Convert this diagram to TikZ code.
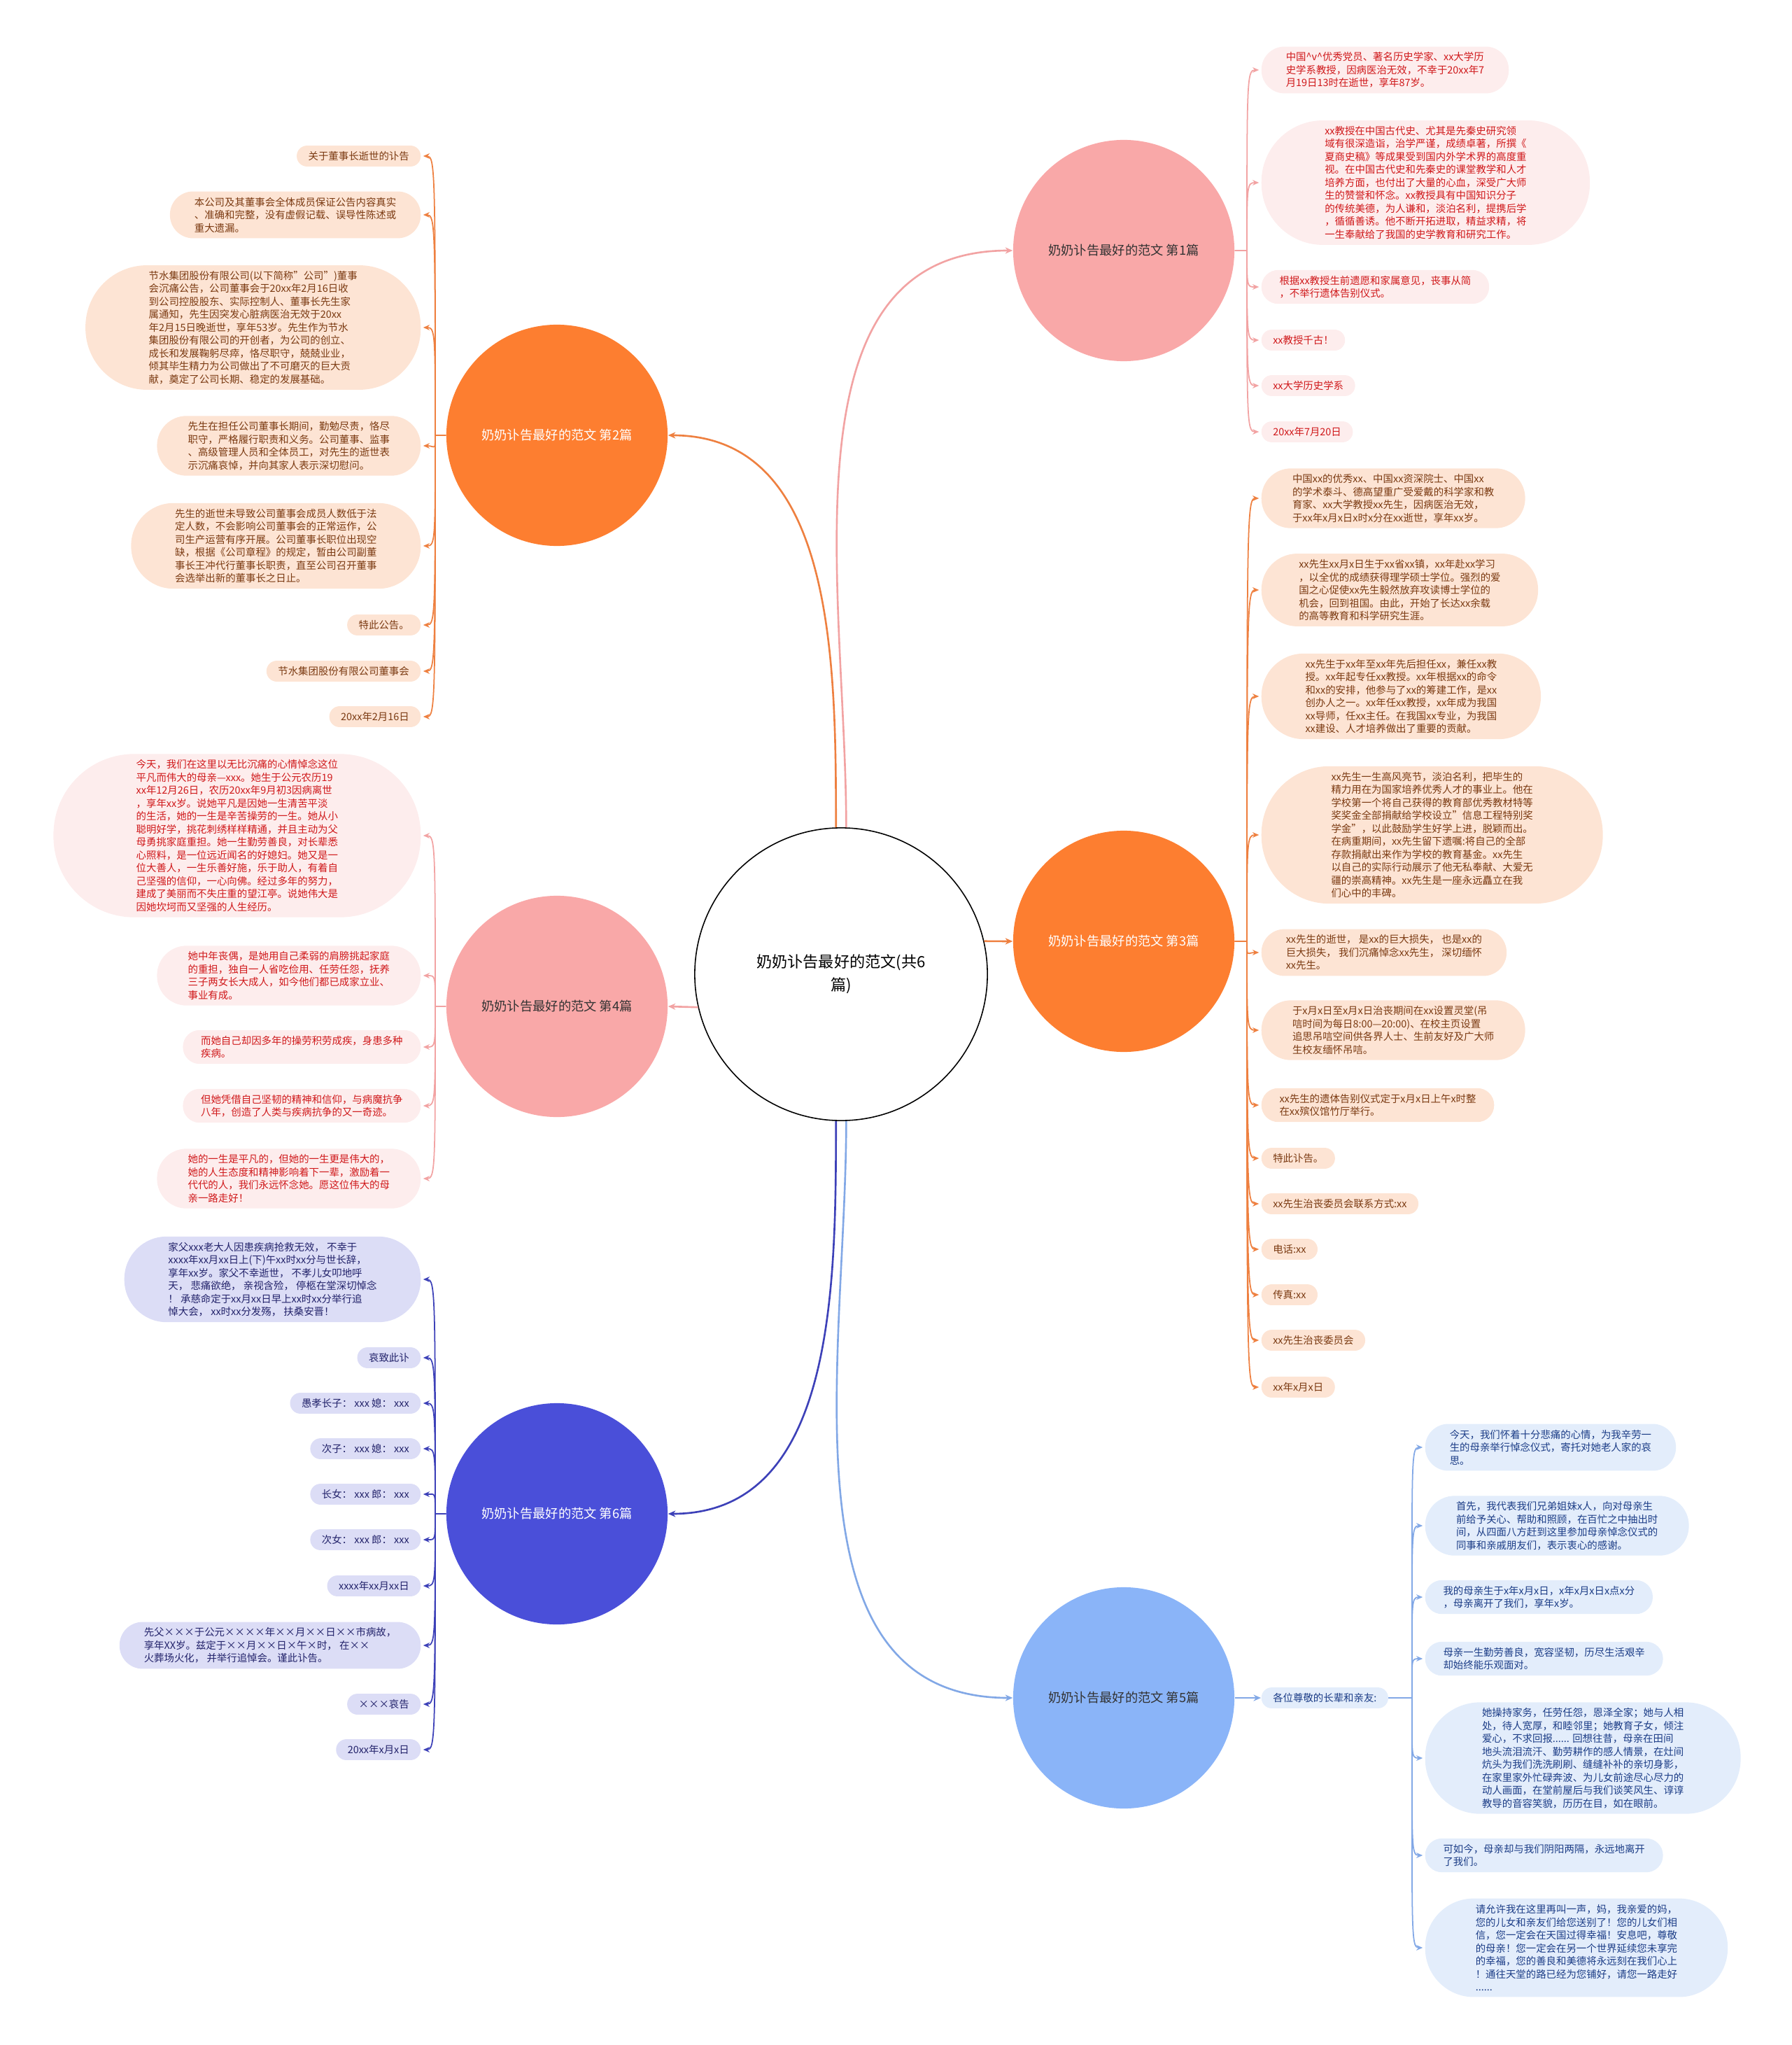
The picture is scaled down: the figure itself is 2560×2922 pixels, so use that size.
\documentclass[tikz,border=0pt]{standalone}
\usepackage{fontspec}
\setmainfont{Noto Sans CJK SC}
\usepackage{xcolor}
\usepackage{tikz}
\usetikzlibrary{arrows.meta}

\definecolor{orgC}{HTML}{FD7E30}
\definecolor{orgL}{HTML}{EE8040}
\definecolor{orgF}{HTML}{FDE4D4}
\definecolor{orgT}{HTML}{7B3A12}
\definecolor{pnkC}{HTML}{F9A8A8}
\definecolor{pnkL}{HTML}{F2A3A3}
\definecolor{pnkF}{HTML}{FDEDED}
\definecolor{pnkT}{HTML}{D0191B}
\definecolor{bluC}{HTML}{8AB4F8}
\definecolor{bluL}{HTML}{82A8E6}
\definecolor{bluF}{HTML}{E3EDFB}
\definecolor{bluT}{HTML}{1C3D87}
\definecolor{indC}{HTML}{4A4FD9}
\definecolor{indL}{HTML}{3D41B8}
\definecolor{indF}{HTML}{DCDDF6}
\definecolor{indT}{HTML}{23236B}

\begin{document}
\begin{tikzpicture}[
    x=0.01cm, y=0.01cm,
    root/.style={circle, draw=black, line width=0.45pt, fill=white, minimum size=4.18cm, inner sep=0pt, align=center, font=\fontsize{6.3}{9.4}\selectfont},
    topic/.style={circle, minimum size=3.16cm, inner sep=0pt, font=\fontsize{5.2}{6.5}\selectfont},
    % #1 = number of text lines, the pill is as round as its height
    leaf/.style={rectangle, minimum height={(#1-1)*5.26pt+8.5pt}, rounded corners={(#1-1)*2.6pt+4.2pt}, inner xsep={(#1-1)*2.63pt+4.7pt}, inner ysep=1pt, align=left, font=\fontsize{4.1}{5.26}\selectfont},
    leaf/.default=1,
    leafo/.style={leaf=#1, fill=orgF, text=orgT}, leafo/.default=1,
    leafp/.style={leaf=#1, fill=pnkF, text=pnkT}, leafp/.default=1,
    leafb/.style={leaf=#1, fill=bluF, text=bluT}, leafb/.default=1,
    leafi/.style={leaf=#1, fill=indF, text=indT}, leafi/.default=1,
    trunk/.style={-{Stealth[length=3pt,width=2.6pt]}, line width=0.75pt},
    link/.style={-{Stealth[length=2.6pt,width=2.2pt]}, line width=0.5pt, shorten >=0.8pt},
    upL/.style={out=90, in=0, out looseness=2.4, in distance=2mm},
    dnL/.style={out=270, in=0, out looseness=2.4, in distance=2mm},
    upR/.style={out=90, in=180, out looseness=2.4, in distance=2mm},
    dnR/.style={out=270, in=180, out looseness=2.4, in distance=2mm}
  ]
    \useasboundingbox (0,0) rectangle (2560,-2922);

    % centre and the six topics
    \node[root] (main) at (1202,-1392) {奶奶讣告最好的范文(共6\\篇)};
    \node[topic, fill=pnkC, text=black!80] (b1) at (1606,-358) {奶奶讣告最好的范文 第1篇};
    \node[topic, fill=orgC, text=white] (b2) at (796,-622) {奶奶讣告最好的范文 第2篇};
    \node[topic, fill=orgC, text=white] (b3) at (1606,-1345) {奶奶讣告最好的范文 第3篇};
    \node[topic, fill=pnkC, text=black!80] (b4) at (796,-1438) {奶奶讣告最好的范文 第4篇};
    \node[topic, fill=bluC, text=black!80] (b5) at (1606,-2426) {奶奶讣告最好的范文 第5篇};
    \node[topic, fill=indC, text=white] (b6) at (796,-2163) {奶奶讣告最好的范文 第6篇};

    \draw[trunk, pnkL] (main.88) to[out=90, in=180] (b1.west);
    \draw[trunk, orgL] (main.92) to[out=90, in=0] (b2.east);
    \draw[trunk, orgL] (main.13) -- (b3.west);
    \draw[trunk, pnkL] (main.193) -- (b4.east);
    \draw[trunk, bluL] (main.272) to[out=270, in=180] (b5.west);
    \draw[trunk, indL] (main.268) to[out=270, in=0] (b6.east);

    \coordinate (t1) at (1782,-358);
    \coordinate (t2) at (622,-622);
    \coordinate (t3) at (1782,-1345);
    \coordinate (t4) at (622,-1438);
    \coordinate (t6) at (622,-2163);

    % 第1篇
    \node[leafp=3, anchor=west] (b1a) at (1802,-100) {中国\textasciicircum v\textasciicircum 优秀党员、著名历史学家、xx大学历\\史学系教授，因病医治无效，不幸于20xx年7\\月19日13时在逝世，享年87岁。};
    \node[leafp=9, anchor=west] (b1b) at (1802,-261) {xx教授在中国古代史、尤其是先秦史研究领\\域有很深造诣，治学严谨，成绩卓著，所撰《\\夏商史稿》等成果受到国内外学术界的高度重\\视。在中国古代史和先秦史的课堂教学和人才\\培养方面，也付出了大量的心血，深受广大师\\生的赞誉和怀念。xx教授具有中国知识分子\\的传统美德，为人谦和，淡泊名利，提携后学\\，循循善诱。他不断开拓进取，精益求精，将\\一生奉献给了我国的史学教育和研究工作。};
    \node[leafp=2, anchor=west] (b1c) at (1802,-410) {根据xx教授生前遗愿和家属意见，丧事从简\\，不举行遗体告别仪式。};
    \node[leafp, anchor=west] (b1d) at (1802,-486) {xx教授千古！};
    \node[leafp, anchor=west] (b1e) at (1802,-551) {xx大学历史学系};
    \node[leafp, anchor=west] (b1f) at (1802,-617) {20xx年7月20日};

    \draw[link, pnkL] (b1.east) -- (t1) to[upR] (b1a.west);
    \draw[link, pnkL] (b1.east) -- (t1) to[upR] (b1b.west);
    \draw[link, pnkL] (b1.east) -- (t1) to[dnR] (b1c.west);
    \draw[link, pnkL] (b1.east) -- (t1) to[dnR] (b1d.west);
    \draw[link, pnkL] (b1.east) -- (t1) to[dnR] (b1e.west);
    \draw[link, pnkL] (b1.east) -- (t1) to[dnR] (b1f.west);

    % 第2篇
    \node[leafo, anchor=east] (b2a) at (602,-223) {关于董事长逝世的讣告};
    \node[leafo=3, anchor=east] (b2b) at (602,-307) {本公司及其董事会全体成员保证公告内容真实\\、准确和完整，没有虚假记载、误导性陈述或\\重大遗漏。};
    \node[leafo=9, anchor=east] (b2c) at (602,-468) {节水集团股份有限公司(以下简称"公司")董事\\会沉痛公告，公司董事会于20xx年2月16日收\\到公司控股股东、实际控制人、董事长先生家\\属通知，先生因突发心脏病医治无效于20xx\\年2月15日晚逝世，享年53岁。先生作为节水\\集团股份有限公司的开创者，为公司的创立、\\成长和发展鞠躬尽瘁，恪尽职守，兢兢业业，\\倾其毕生精力为公司做出了不可磨灭的巨大贡\\献，奠定了公司长期、稳定的发展基础。};
    \node[leafo=4, anchor=east] (b2d) at (602,-637) {先生在担任公司董事长期间，勤勉尽责，恪尽\\职守，严格履行职责和义务。公司董事、监事\\、高级管理人员和全体员工，对先生的逝世表\\示沉痛哀悼，并向其家人表示深切慰问。};
    \node[leafo=6, anchor=east] (b2e) at (602,-780) {先生的逝世未导致公司董事会成员人数低于法\\定人数，不会影响公司董事会的正常运作，公\\司生产运营有序开展。公司董事长职位出现空\\缺，根据《公司章程》的规定，暂由公司副董\\事长王冲代行董事长职责，直至公司召开董事\\会选举出新的董事长之日止。};
    \node[leafo, anchor=east] (b2f) at (602,-893) {特此公告。};
    \node[leafo, anchor=east] (b2g) at (602,-959) {节水集团股份有限公司董事会};
    \node[leafo, anchor=east] (b2h) at (602,-1024) {20xx年2月16日};

    \draw[link, orgL] (b2.west) -- (t2) to[upL] (b2a.east);
    \draw[link, orgL] (b2.west) -- (t2) to[upL] (b2b.east);
    \draw[link, orgL] (b2.west) -- (t2) to[upL] (b2c.east);
    \draw[link, orgL] (b2.west) -- (t2) to[dnL] (b2d.east);
    \draw[link, orgL] (b2.west) -- (t2) to[dnL] (b2e.east);
    \draw[link, orgL] (b2.west) -- (t2) to[dnL] (b2f.east);
    \draw[link, orgL] (b2.west) -- (t2) to[dnL] (b2g.east);
    \draw[link, orgL] (b2.west) -- (t2) to[dnL] (b2h.east);

    % 第3篇
    \node[leafo=4, anchor=west] (b3a) at (1802,-712) {中国xx的优秀xx、中国xx资深院士、中国xx\\的学术泰斗、德高望重广受爱戴的科学家和教\\育家、xx大学教授xx先生，因病医治无效，\\于xx年x月x日x时x分在xx逝世，享年xx岁。};
    \node[leafo=5, anchor=west] (b3b) at (1802,-843) {xx先生xx月x日生于xx省xx镇，xx年赴xx学习\\，以全优的成绩获得理学硕士学位。强烈的爱\\国之心促使xx先生毅然放弃攻读博士学位的\\机会，回到祖国。由此，开始了长达xx余载\\的高等教育和科学研究生涯。};
    \node[leafo=6, anchor=west] (b3c) at (1802,-995) {xx先生于xx年至xx年先后担任xx，兼任xx教\\授。xx年起专任xx教授。xx年根据xx的命令\\和xx的安排，他参与了xx的筹建工作，是xx\\创办人之一。xx年任xx教授，xx年成为我国\\xx导师，任xx主任。在我国xx专业，为我国\\xx建设、人才培养做出了重要的贡献。};
    \node[leafo=10, anchor=west] (b3d) at (1802,-1193) {xx先生一生高风亮节，淡泊名利，把毕生的\\精力用在为国家培养优秀人才的事业上。他在\\学校第一个将自己获得的教育部优秀教材特等\\奖奖金全部捐献给学校设立"信息工程特别奖\\学金"，以此鼓励学生好学上进，脱颖而出。\\在病重期间，xx先生留下遗嘱:将自己的全部\\存款捐献出来作为学校的教育基金。xx先生\\以自己的实际行动展示了他无私奉献、大爱无\\疆的崇高精神。xx先生是一座永远矗立在我\\们心中的丰碑。};
    \node[leafo=3, anchor=west] (b3e) at (1802,-1361) {xx先生的逝世， 是xx的巨大损失， 也是xx的\\巨大损失， 我们沉痛悼念xx先生， 深切缅怀\\xx先生。};
    \node[leafo=4, anchor=west] (b3f) at (1802,-1472) {于x月x日至x月x日治丧期间在xx设置灵堂(吊\\唁时间为每日8:00—20:00)、在校主页设置\\追思吊唁空间供各界人士、生前友好及广大师\\生校友缅怀吊唁。};
    \node[leafo=2, anchor=west] (b3g) at (1802,-1579) {xx先生的遗体告别仪式定于x月x日上午x时整\\在xx殡仪馆竹厅举行。};
    \node[leafo, anchor=west] (b3h) at (1802,-1655) {特此讣告。};
    \node[leafo, anchor=west] (b3i) at (1802,-1720) {xx先生治丧委员会联系方式:xx};
    \node[leafo, anchor=west] (b3j) at (1802,-1785) {电话:xx};
    \node[leafo, anchor=west] (b3k) at (1802,-1850) {传真:xx};
    \node[leafo, anchor=west] (b3l) at (1802,-1915) {xx先生治丧委员会};
    \node[leafo, anchor=west] (b3m) at (1802,-1982) {xx年x月x日};

    \draw[link, orgL] (b3.east) -- (t3) to[upR] (b3a.west);
    \draw[link, orgL] (b3.east) -- (t3) to[upR] (b3b.west);
    \draw[link, orgL] (b3.east) -- (t3) to[upR] (b3c.west);
    \draw[link, orgL] (b3.east) -- (t3) to[upR] (b3d.west);
    \draw[link, orgL] (b3.east) -- (t3) to[dnR] (b3e.west);
    \draw[link, orgL] (b3.east) -- (t3) to[dnR] (b3f.west);
    \draw[link, orgL] (b3.east) -- (t3) to[dnR] (b3g.west);
    \draw[link, orgL] (b3.east) -- (t3) to[dnR] (b3h.west);
    \draw[link, orgL] (b3.east) -- (t3) to[dnR] (b3i.west);
    \draw[link, orgL] (b3.east) -- (t3) to[dnR] (b3j.west);
    \draw[link, orgL] (b3.east) -- (t3) to[dnR] (b3k.west);
    \draw[link, orgL] (b3.east) -- (t3) to[dnR] (b3l.west);
    \draw[link, orgL] (b3.east) -- (t3) to[dnR] (b3m.west);

    % 第4篇
    \node[leafp=12, anchor=east] (b4a) at (602,-1194) {今天，我们在这里以无比沉痛的心情悼念这位\\平凡而伟大的母亲—xxx。她生于公元农历19\\xx年12月26日，农历20xx年9月初3因病离世\\，享年xx岁。说她平凡是因她一生清苦平淡\\的生活，她的一生是辛苦操劳的一生。她从小\\聪明好学，挑花刺绣样样精通，并且主动为父\\母勇挑家庭重担。她一生勤劳善良，对长辈悉\\心照料，是一位远近闻名的好媳妇。她又是一\\位大善人，一生乐善好施，乐于助人，有着自\\己坚强的信仰，一心向佛。经过多年的努力，\\建成了美丽而不失庄重的望江亭。说她伟大是\\因她坎坷而又坚强的人生经历。};
    \node[leafp=4, anchor=east] (b4b) at (602,-1394) {她中年丧偶，是她用自己柔弱的肩膀挑起家庭\\的重担，独自一人省吃俭用、任劳任怨，抚养\\三子两女长大成人，如今他们都已成家立业、\\事业有成。};
    \node[leafp=2, anchor=east] (b4c) at (602,-1496) {而她自己却因多年的操劳积劳成疾，身患多种\\疾病。};
    \node[leafp=2, anchor=east] (b4d) at (602,-1580) {但她凭借自己坚韧的精神和信仰，与病魔抗争\\八年，创造了人类与疾病抗争的又一奇迹。};
    \node[leafp=4, anchor=east] (b4e) at (602,-1684) {她的一生是平凡的，但她的一生更是伟大的，\\她的人生态度和精神影响着下一辈，激励着一\\代代的人，我们永远怀念她。愿这位伟大的母\\亲一路走好！};

    \draw[link, pnkL] (b4.west) -- (t4) to[upL] (b4a.east);
    \draw[link, pnkL] (b4.west) -- (t4) to[upL] (b4b.east);
    \draw[link, pnkL] (b4.west) -- (t4) to[dnL] (b4c.east);
    \draw[link, pnkL] (b4.west) -- (t4) to[dnL] (b4d.east);
    \draw[link, pnkL] (b4.west) -- (t4) to[dnL] (b4e.east);

    % 第5篇
    \node[leafb, anchor=west] (b5m) at (1802,-2426) {各位尊敬的长辈和亲友:};
    \draw[trunk, bluL] (b5.east) -- (b5m.west);
    \coordinate (t5) at (2018,-2426);
    \node[leafb=3, anchor=west] (b5a) at (2036,-2068) {今天，我们怀着十分悲痛的心情，为我辛劳一\\生的母亲举行悼念仪式，寄托对她老人家的哀\\思。};
    \node[leafb=4, anchor=west] (b5b) at (2036,-2180) {首先，我代表我们兄弟姐妹x人，向对母亲生\\前给予关心、帮助和照顾，在百忙之中抽出时\\间，从四面八方赶到这里参加母亲悼念仪式的\\同事和亲戚朋友们，表示衷心的感谢。};
    \node[leafb=2, anchor=west] (b5c) at (2036,-2282) {我的母亲生于x年x月x日，x年x月x日x点x分\\，母亲离开了我们，享年x岁。};
    \node[leafb=2, anchor=west] (b5d) at (2036,-2370) {母亲一生勤劳善良，宽容坚韧，历尽生活艰辛\\却始终能乐观面对。};
    \node[leafb=8, anchor=west] (b5e) at (2036,-2512) {她操持家务，任劳任怨，恩泽全家；她与人相\\处，待人宽厚，和睦邻里；她教育子女，倾注\\爱心，不求回报...... 回想往昔，母亲在田间\\地头流泪流汗、勤劳耕作的感人情景，在灶间\\炕头为我们洗洗刷刷、缝缝补补的亲切身影，\\在家里家外忙碌奔波、为儿女前途尽心尽力的\\动人画面，在堂前屋后与我们谈笑风生、谆谆\\教导的音容笑貌，历历在目，如在眼前。};
    \node[leafb=2, anchor=west] (b5f) at (2036,-2651) {可如今，母亲却与我们阴阳两隔，永远地离开\\了我们。};
    \node[leafb=7, anchor=west] (b5g) at (2036,-2783) {请允许我在这里再叫一声，妈，我亲爱的妈，\\您的儿女和亲友们给您送别了！您的儿女们相\\信，您一定会在天国过得幸福！安息吧，尊敬\\的母亲！您一定会在另一个世界延续您未享完\\的幸福，您的善良和美德将永远刻在我们心上\\！通往天堂的路已经为您铺好，请您一路走好\\......};

    \draw[link, bluL] (b5m.east) -- (t5) to[upR] (b5a.west);
    \draw[link, bluL] (b5m.east) -- (t5) to[upR] (b5b.west);
    \draw[link, bluL] (b5m.east) -- (t5) to[upR] (b5c.west);
    \draw[link, bluL] (b5m.east) -- (t5) to[upR] (b5d.west);
    \draw[link, bluL] (b5m.east) -- (t5) to[dnR] (b5e.west);
    \draw[link, bluL] (b5m.east) -- (t5) to[dnR] (b5f.west);
    \draw[link, bluL] (b5m.east) -- (t5) to[dnR] (b5g.west);

    % 第6篇
    \node[leafi=6, anchor=east] (b6a) at (602,-1828) {家父xxx老大人因患疾病抢救无效， 不幸于\\xxxx年xx月xx日上(下)午xx时xx分与世长辞，\\享年xx岁。家父不幸逝世， 不孝儿女叩地呼\\天， 悲痛欲绝， 亲视含殓， 停柩在堂深切悼念\\！ 承慈命定于xx月xx日早上xx时xx分举行追\\悼大会， xx时xx分发殇， 扶桑安晋！};
    \node[leafi, anchor=east] (b6b) at (602,-1940) {哀致此讣};
    \node[leafi, anchor=east] (b6c) at (602,-2005) {愚孝长子： xxx 媳： xxx};
    \node[leafi, anchor=east] (b6d) at (602,-2070) {次子： xxx 媳： xxx};
    \node[leafi, anchor=east] (b6e) at (602,-2135) {长女： xxx 郎： xxx};
    \node[leafi, anchor=east] (b6f) at (602,-2200) {次女： xxx 郎： xxx};
    \node[leafi, anchor=east] (b6g) at (602,-2266) {xxxx年xx月xx日};
    \node[leafi=3, anchor=east] (b6h) at (602,-2351) {先父×××于公元××××年××月××日××市病故，\\享年XX岁。兹定于××月××日×午×时， 在××\\火葬场火化， 并举行追悼会。谨此讣告。};
    \node[leafi, anchor=east] (b6i) at (602,-2435) {×××哀告};
    \node[leafi, anchor=east] (b6j) at (602,-2500) {20xx年x月x日};

    \draw[link, indL] (b6.west) -- (t6) to[upL] (b6a.east);
    \draw[link, indL] (b6.west) -- (t6) to[upL] (b6b.east);
    \draw[link, indL] (b6.west) -- (t6) to[upL] (b6c.east);
    \draw[link, indL] (b6.west) -- (t6) to[upL] (b6d.east);
    \draw[link, indL] (b6.west) -- (t6) to[upL] (b6e.east);
    \draw[link, indL] (b6.west) -- (t6) to[dnL] (b6f.east);
    \draw[link, indL] (b6.west) -- (t6) to[dnL] (b6g.east);
    \draw[link, indL] (b6.west) -- (t6) to[dnL] (b6h.east);
    \draw[link, indL] (b6.west) -- (t6) to[dnL] (b6i.east);
    \draw[link, indL] (b6.west) -- (t6) to[dnL] (b6j.east);
\end{tikzpicture}
\end{document}
